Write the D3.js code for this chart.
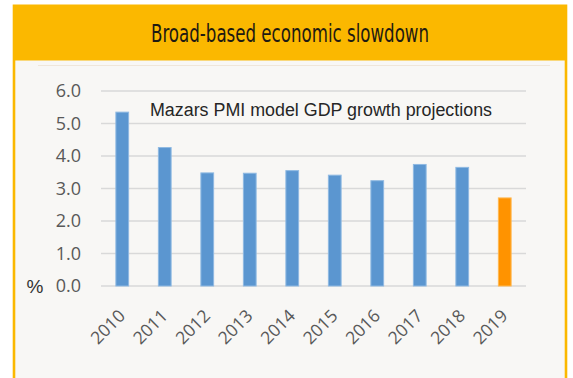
<!DOCTYPE html>
<html>
<head>
<meta charset="utf-8">
<script src="https://cdn.jsdelivr.net/npm/d3@7"></script>
<style>
  html, body { margin: 0; padding: 0; background: #ffffff; }
  svg { display: block; }
</style>
</head>
<body>
<svg id="chart" width="573" height="378"></svg>
<script>
// GDP growth projections, % per year
const years = ["2010", "2011", "2012", "2013", "2014", "2015", "2016", "2017", "2018", "2019"];
const growth = [5.35, 4.26, 3.48, 3.47, 3.55, 3.41, 3.24, 3.74, 3.65, 2.71];
const yTicks = [0, 1, 2, 3, 4, 5, 6];
const headerTitle = "Broad-based economic slowdown";
const chartTitle = "Mazars PMI model GDP growth projections";
const unitLabel = "%";

const svg = d3.select("#chart");

// Yellow frame and header band
svg.append("rect")
  .attr("x", 12.7).attr("y", 4.5).attr("width", 554.6).attr("height", 380)
  .attr("fill", "#FBB800");
svg.append("rect")
  .attr("x", 15.3).attr("y", 60.5).attr("width", 549.4).attr("height", 330)
  .attr("fill", "#F8F7F5");
svg.append("line")
  .attr("x1", 38).attr("x2", 550).attr("y1", 65.5).attr("y2", 65.5)
  .attr("stroke", "#EFE6DA").attr("stroke-width", 1);

svg.append("text")
  .attr("x", 151).attr("y", 42.3)
  .attr("font-family", "'DejaVu Sans', sans-serif")
  .attr("font-stretch", "condensed")
  .attr("font-size", 24)
  .attr("textLength", 278)
  .attr("lengthAdjust", "spacingAndGlyphs")
  .attr("fill", "#1E1A12")
  .text(headerTitle);

// Scales
const x = d3.scaleBand().domain(years).range([101, 526]).paddingInner(0.7).paddingOuter(0.35);
const y = d3.scaleLinear().domain([0, 6]).range([286, 91]);

// Gridlines
svg.append("g")
  .selectAll("line")
  .data(yTicks)
  .join("line")
  .attr("x1", 101).attr("x2", 526)
  .attr("y1", d => y(d)).attr("y2", d => y(d))
  .attr("stroke", "#D9D9D9").attr("stroke-width", 1.5);

// Y-axis labels
const yAxis = d3.axisLeft(y).tickValues(yTicks).tickFormat(d3.format(".1f")).tickSize(0).tickPadding(0);
const yg = svg.append("g").attr("transform", "translate(81,0)").call(yAxis);
yg.select(".domain").remove();
yg.selectAll("text")
  .attr("font-family", "'Open Sans', sans-serif")
  .attr("font-size", 18)
  .attr("fill", "#595959");

svg.append("text")
  .attr("x", 35).attr("y", y(0)).attr("dy", "0.35em")
  .attr("text-anchor", "middle")
  .attr("font-family", "'Liberation Sans', Arial, sans-serif")
  .attr("font-size", 19)
  .attr("fill", "#333333")
  .text(unitLabel);

// Bars
svg.append("g")
  .selectAll("rect")
  .data(years)
  .join("rect")
  .attr("x", d => x(d))
  .attr("width", x.bandwidth())
  .attr("y", (d, i) => y(growth[i]))
  .attr("height", (d, i) => y(0) - y(growth[i]))
  .attr("fill", (d, i) => i === years.length - 1 ? "#FF9300" : "#5B96D0")
  .attr("stroke", (d, i) => i === years.length - 1 ? "#FFB850" : "#8FB9E2")
  .attr("stroke-width", 1);

// X-axis labels, rotated
const xAxis = d3.axisBottom(x).tickSize(0).tickPadding(0);
const xg = svg.append("g").attr("transform", `translate(0,${y(0)})`).call(xAxis);
xg.select(".domain").remove();
xg.selectAll("text")
  .attr("font-family", "'Open Sans', sans-serif")
  .attr("font-size", 17.5)
  .attr("fill", "#595959")
  .attr("text-anchor", "end")
  .attr("dy", null)
  .attr("y", 0)
  .attr("transform", "translate(4,31) rotate(-45)");

// Chart title
svg.append("text")
  .attr("x", 150).attr("y", 116)
  .attr("font-family", "'Liberation Sans', Arial, sans-serif")
  .attr("font-size", 18)
  .attr("textLength", 342)
  .attr("lengthAdjust", "spacingAndGlyphs")
  .attr("fill", "#262626")
  .text(chartTitle);
</script>
</body>
</html>
